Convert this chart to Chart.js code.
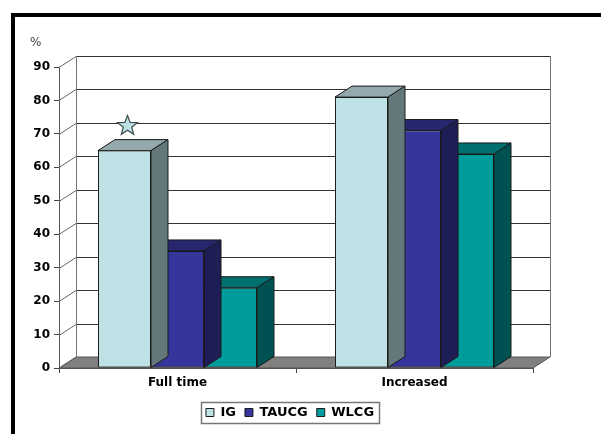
<!DOCTYPE html>
<html>
<head>
<meta charset="utf-8">
<script src="https://cdn.jsdelivr.net/npm/chart.js@4/dist/chart.umd.min.js"></script>
<style>
  html, body { margin: 0; padding: 0; background: #fff; }
  #wrap { width: 601px; height: 434px; position: relative; }
</style>
</head>
<body>
<div id="wrap"><canvas id="c" width="601" height="434"></canvas></div>
<script>
// Categories and series
const categories = ['Full time', 'Increased'];
const seriesNames = ['IG', 'TAUCG', 'WLCG'];
const igValues = [65, 81];
const taucgValues = [35, 71];
const wlcgValues = [24, 64];
const yTicks = [0, 10, 20, 30, 40, 50, 60, 70, 80, 90];
const yUnit = '%';
// significance marker above the IG bar of the first category
const markerCategory = 0;
const markerValue = 72.4;

// Face colours: front, top, side
const palette = [
  { front: '#BEE1E5', top: '#93A9AD', side: '#63787A' },
  { front: '#35359B', top: '#27276F', side: '#1E1E57' },
  { front: '#009B9B', top: '#006F6F', side: '#005252' }
];
const DX = 17, DY = 11; // oblique depth offset

const seriesValues = [igValues, taucgValues, wlcgValues];

const box3d = {
  id: 'box3d',
  beforeDraw(chart) {
    const ctx = chart.ctx;
    ctx.save();
    ctx.fillStyle = '#fff';
    ctx.fillRect(0, 0, chart.width, chart.height);
    // page frame
    ctx.fillStyle = '#000';
    ctx.fillRect(11, 13, 4, chart.height - 13);
    ctx.fillRect(11, 13, chart.width - 11, 4);
    // unit label
    ctx.font = '12px "DejaVu Sans", sans-serif';
    ctx.fillStyle = '#444';
    ctx.textAlign = 'left';
    ctx.textBaseline = 'middle';
    ctx.fillText(yUnit, 30, 43);
    ctx.restore();
  },
  beforeDatasetsDraw(chart) {
    const ctx = chart.ctx;
    const y = chart.scales.y, a = chart.chartArea;
    const y0 = y.getPixelForValue(yTicks[0]);
    const yTop = y.getPixelForValue(yTicks[yTicks.length - 1]);
    ctx.save();
    // floor
    ctx.beginPath();
    ctx.moveTo(a.left, y0);
    ctx.lineTo(a.right, y0);
    ctx.lineTo(a.right + DX, y0 - DY);
    ctx.lineTo(a.left + DX, y0 - DY);
    ctx.closePath();
    ctx.fillStyle = '#808080';
    ctx.fill();
    ctx.strokeStyle = '#555';
    ctx.lineWidth = 1;
    ctx.stroke();
    // back wall gridlines and side wall connectors
    yTicks.forEach(v => {
      const py = Math.round(y.getPixelForValue(v)) + 0.5;
      if (v > 0) {
        ctx.strokeStyle = '#333';
        ctx.beginPath();
        ctx.moveTo(a.left + DX, py - DY);
        ctx.lineTo(a.right + DX, py - DY);
        ctx.stroke();
      }
      ctx.strokeStyle = '#666';
      ctx.beginPath();
      ctx.moveTo(a.left, py);
      ctx.lineTo(a.left + DX, py - DY);
      ctx.stroke();
    });
    // wall edges
    ctx.strokeStyle = '#777';
    ctx.beginPath();
    ctx.moveTo(a.left + DX + 0.5, yTop - DY);
    ctx.lineTo(a.left + DX + 0.5, y0 - DY);
    ctx.moveTo(a.right + DX + 0.5, yTop - DY);
    ctx.lineTo(a.right + DX + 0.5, y0 - DY);
    ctx.stroke();
    ctx.restore();
  },
  afterDatasetDraw(chart, args) {
    const ctx = chart.ctx;
    const col = palette[args.index];
    ctx.save();
    ctx.lineWidth = 1;
    ctx.strokeStyle = '#1a1a1a';
    args.meta.data.forEach(bar => {
      const p = bar.getProps(['x', 'y', 'base', 'width'], true);
      const l = p.x - p.width / 2, r = p.x + p.width / 2;
      const t = p.y, b = p.base;
      // top face
      ctx.beginPath();
      ctx.moveTo(l, t);
      ctx.lineTo(l + DX, t - DY);
      ctx.lineTo(r + DX, t - DY);
      ctx.lineTo(r, t);
      ctx.closePath();
      ctx.fillStyle = col.top;
      ctx.fill();
      ctx.stroke();
      // side face
      ctx.beginPath();
      ctx.moveTo(r, t);
      ctx.lineTo(r + DX, t - DY);
      ctx.lineTo(r + DX, b - DY);
      ctx.lineTo(r, b);
      ctx.closePath();
      ctx.fillStyle = col.side;
      ctx.fill();
      ctx.stroke();
    });
    ctx.restore();
  },
  afterDatasetsDraw(chart) {
    // star marker
    const ctx = chart.ctx;
    const bar = chart.getDatasetMeta(0).data[markerCategory];
    const cx = bar.x + 3;
    const cy = chart.scales.y.getPixelForValue(markerValue);
    const R = 10.5, rIn = 4.4;
    ctx.save();
    ctx.beginPath();
    for (let i = 0; i < 10; i++) {
      const ang = -Math.PI / 2 + i * Math.PI / 5;
      const rad = i % 2 === 0 ? R : rIn;
      const px = cx + rad * Math.cos(ang), py = cy + rad * Math.sin(ang);
      if (i === 0) ctx.moveTo(px, py); else ctx.lineTo(px, py);
    }
    ctx.closePath();
    ctx.fillStyle = '#BEE1E5';
    ctx.fill();
    ctx.strokeStyle = '#3a4a4a';
    ctx.lineWidth = 1.2;
    ctx.stroke();
    ctx.restore();
  },
  afterDraw(chart) {
    // border round the legend
    const lg = chart.legend;
    if (!lg || !lg.legendHitBoxes || !lg.legendHitBoxes.length) return;
    const hb = lg.legendHitBoxes;
    const l = Math.min(...hb.map(h => h.left)) - 5;
    const r = Math.max(...hb.map(h => h.left + h.width)) + 5;
    const t = Math.min(...hb.map(h => h.top)) - 4;
    const b = Math.max(...hb.map(h => h.top + h.height)) + 4;
    const ctx = chart.ctx;
    ctx.save();
    ctx.strokeStyle = '#777';
    ctx.lineWidth = 1.5;
    ctx.strokeRect(Math.round(l) + 0.5, Math.round(t) + 0.5, Math.round(r - l), Math.round(b - t));
    ctx.restore();
  }
};

const boldFont = { family: '"DejaVu Sans", sans-serif', size: 12, weight: 'bold' };
const legendFont = { family: '"DejaVu Sans", sans-serif', size: 13, weight: 'bold' };
const PAD = { left: 0, right: 21, top: 67, bottom: 5 };
const FRONT_BOTTOM = 368;
const FRONT_RIGHT = 533;

new Chart(document.getElementById('c'), {
  type: 'bar',
  data: {
    labels: categories,
    datasets: seriesNames.map((name, i) => ({
      label: name,
      data: seriesValues[i],
      backgroundColor: palette[i].front,
      borderColor: '#1a1a1a',
      borderWidth: 1,
      borderSkipped: false,
      categoryPercentage: 0.671,
      barPercentage: 1
    }))
  },
  options: {
    responsive: false,
    animation: false,
    events: [],
    layout: { padding: PAD },
    plugins: {
      tooltip: { enabled: false },
      legend: {
        position: 'bottom',
        labels: {
          boxWidth: 8,
          boxHeight: 8,
          padding: 9,
          color: '#000',
          font: legendFont
        }
      }
    },
    scales: {
      x: {
        grid: { offset: true, drawOnChartArea: false, tickLength: 5, color: '#444' },
        border: { display: true, color: '#555' },
        ticks: { color: '#000', font: boldFont, padding: 3 },
        afterFit(s) {
          const lgH = (s.chart.legend && s.chart.legend.height) || 0;
          s.height = s.chart.height - PAD.bottom - lgH - FRONT_BOTTOM;
        }
      },
      y: {
        min: yTicks[0],
        max: yTicks[yTicks.length - 1],
        afterBuildTicks(s) { s.ticks = yTicks.map(v => ({ value: v })); },
        grid: { drawOnChartArea: false, tickLength: 5, color: '#444' },
        border: { display: true, color: '#555' },
        ticks: { color: '#000', font: boldFont, padding: 4 },
        afterFit(s) { s.width = 59; }
      },
      // empty right-hand axis that leaves room for the wall depth
      depth: {
        position: 'right',
        grid: { display: false },
        border: { display: false },
        ticks: { display: false },
        afterFit(s) { s.width = s.chart.width - PAD.right - FRONT_RIGHT; }
      }
    }
  },
  plugins: [box3d]
});
</script>
</body>
</html>
